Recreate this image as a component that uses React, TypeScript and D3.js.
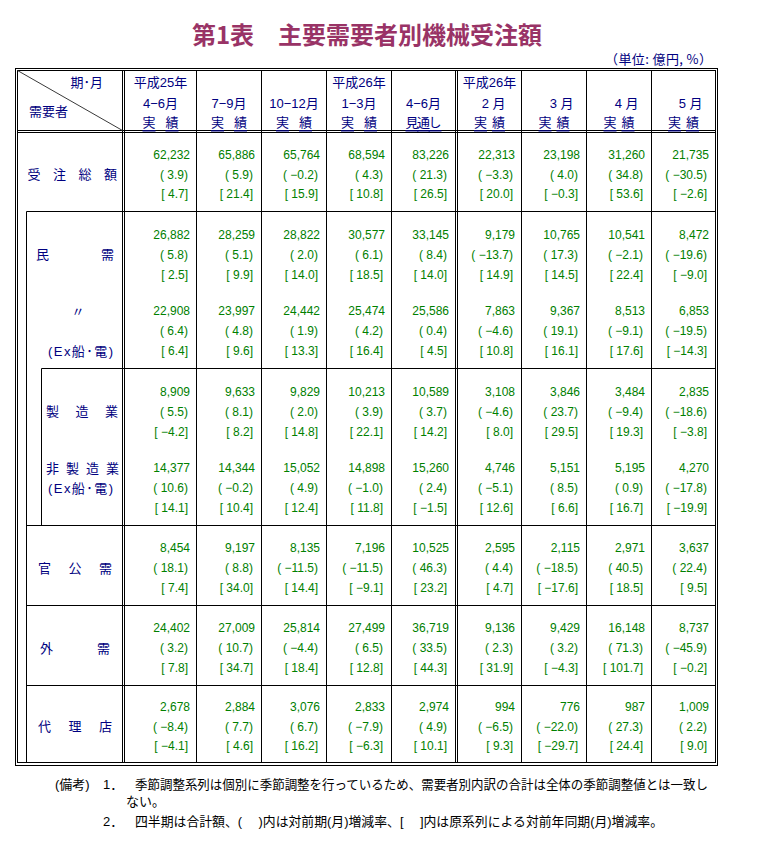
import React from "react";
import * as d3 from "d3";

// ---------- data ----------
const headerTop = ["平成25年", "", "", "平成26年", "", "平成26年", "", "", ""];
const headerMid = ["4−6月", "7−9月", "10−12月", "1−3月", "4−6月", "2 月", "3 月", "4 月", "5 月"];
const headerBottom = ["実 績", "実 績", "実 績", "実 績", "見通し", "実 績", "実 績", "実 績", "実 績"];

const rowLabels = [
  ["受注総額"],
  ["民需"],
  ["〃", "(Ex船･電)"],
  ["製造業"],
  ["非製造業", "(Ex船･電)"],
  ["官公需"],
  ["外需"],
  ["代理店"],
];

const orderValues = [
  [62232, 65886, 65764, 68594, 83226, 22313, 23198, 31260, 21735],
  [26882, 28259, 28822, 30577, 33145, 9179, 10765, 10541, 8472],
  [22908, 23997, 24442, 25474, 25586, 7863, 9367, 8513, 6853],
  [8909, 9633, 9829, 10213, 10589, 3108, 3846, 3484, 2835],
  [14377, 14344, 15052, 14898, 15260, 4746, 5151, 5195, 4270],
  [8454, 9197, 8135, 7196, 10525, 2595, 2115, 2971, 3637],
  [24402, 27009, 25814, 27499, 36719, 9136, 9429, 16148, 8737],
  [2678, 2884, 3076, 2833, 2974, 994, 776, 987, 1009],
];

const momRates = [
  [3.9, 5.9, -0.2, 4.3, 21.3, -3.3, 4.0, 34.8, -30.5],
  [5.8, 5.1, 2.0, 6.1, 8.4, -13.7, 17.3, -2.1, -19.6],
  [6.4, 4.8, 1.9, 4.2, 0.4, -4.6, 19.1, -9.1, -19.5],
  [5.5, 8.1, 2.0, 3.9, 3.7, -4.6, 23.7, -9.4, -18.6],
  [10.6, -0.2, 4.9, -1.0, 2.4, -5.1, 8.5, 0.9, -17.8],
  [18.1, 8.8, -11.5, -11.5, 46.3, 4.4, -18.5, 40.5, 22.4],
  [3.2, 10.7, -4.4, 6.5, 33.5, 2.3, 3.2, 71.3, -45.9],
  [-8.4, 7.7, 6.7, -7.9, 4.9, -6.5, -22.0, 27.3, 2.2],
];

const yoyRates = [
  [4.7, 21.4, 15.9, 10.8, 26.5, 20.0, -0.3, 53.6, -2.6],
  [2.5, 9.9, 14.0, 18.5, 14.0, 14.9, 14.5, 22.4, -9.0],
  [6.4, 9.6, 13.3, 16.4, 4.5, 10.8, 16.1, 17.6, -14.3],
  [-4.2, 8.2, 14.8, 22.1, 14.2, 8.0, 29.5, 19.3, -3.8],
  [14.1, 10.4, 12.4, 11.8, -1.5, 12.6, 6.6, 16.7, -19.9],
  [7.4, 34.0, 14.4, -9.1, 23.2, 4.7, -17.6, 18.5, 9.5],
  [7.8, 34.7, 18.4, 12.8, 44.3, 31.9, -4.3, 101.7, -0.2],
  [-4.1, 4.6, 16.2, -6.3, 10.1, 9.3, -29.7, 24.4, 9.0],
];

const titleText = "第1表　主要需要者別機械受注額";
const unitText = "（単位: 億円, %）";
const noteHead = "(備考)";
const noteNums = ["1．", "2．"];
const noteLines = [
  "季節調整系列は個別に季節調整を行っているため、需要者別内訳の合計は全体の季節調整値とは一致し",
  "四半期は合計額、(　 )内は対前期(月)増減率、[　 ]内は原系列による対前年同期(月)増減率。",
];
const noteCont = "ない。";

// ---------- layout ----------
const W = 758;
const H = 851;
const NAVY = "#000080";
const GREEN = "#008000";
const JP = "'Liberation Sans', 'Noto Sans CJK JP', sans-serif";

const colWidths = [72, 65, 65, 65, 64, 64, 65, 65, 64];
const colStart = 124.5;
const colLefts: number[] = [];
const colRights: number[] = [];
{
  let x = colStart;
  colWidths.forEach((w, i) => {
    colLefts.push(x);
    x += w;
    colRights.push(x);
    if (i === 4) x += 2;
  });
}
const colIdx = d3.range(colWidths.length);
const xRight = d3.scaleOrdinal<number, number>().domain(colIdx).range(colRights);
const xLeft = d3.scaleOrdinal<number, number>().domain(colIdx).range(colLefts);

const T_OUT = 68.5, T_IN = 70.5, HB1 = 130.5, HB2 = 132.5, B_IN = 762.5, B_OUT = 765.5;
const L_OUT = 15.5, L_IN = 17.5, R_IN = 715.5, R_OUT = 717.5;
const LC1 = 122.5;
const X_GROUP = 26.5, X_SUB = 41.5;

const groups = [
  { top: HB2, bottom: 211.5, rows: [0] },
  { top: 211.5, bottom: 368.5, rows: [1, 2] },
  { top: 368.5, bottom: 525.5, rows: [3, 4] },
  { top: 525.5, bottom: 605.5, rows: [5] },
  { top: 605.5, bottom: 685.5, rows: [6] },
  { top: 685.5, bottom: B_IN, rows: [7] },
];
const rowMid: number[] = [];
groups.forEach((g) => {
  const m = (g.top + g.bottom) / 2;
  if (g.rows.length === 1) rowMid[g.rows[0]] = m + 2.5;
  else {
    rowMid[g.rows[0]] = m + 3 - 38.2;
    rowMid[g.rows[1]] = m + 3 + 38.2;
  }
});
const PITCH = 19.8;

// label spans: [lineOffset, x0, x1] per label line
const labelSpans: Array<Array<[number, number, number]>> = [
  [[0, 27.5, 117]],
  [[0, 36, 114]],
  [[-1, 78, 78], [1, 48, 113]],
  [[0, 46, 118]],
  [[-1, 46, 119], [0, 48, 113]],
  [[0, 38, 112]],
  [[0, 40, 110]],
  [[0, 38, 112]],
];

const fmtVal = d3.format(",");
const fmtRate = (v: number) => (v < 0 ? "−" : "") + Math.abs(v).toFixed(1);

function SpreadText({ text, x0, x1, y, size }: { text: string; x0: number; x1: number; y: number; size: number }) {
  const chars = Array.from(text);
  const isPlain = /^[^\(\)A-Za-z]+$/.test(text);
  if (chars.length === 1) {
    return (
      <text x={x0} y={y} textAnchor="middle" dominantBaseline="central" fontSize={size} fill={NAVY} fontFamily={JP}>
        {text}
      </text>
    );
  }
  if (!isPlain) {
    return (
      <text x={x0} y={y} dominantBaseline="central" fontSize={size} fill={NAVY} fontFamily={JP}
        textLength={x1 - x0} lengthAdjust="spacing">
        {text}
      </text>
    );
  }
  const step = (x1 - x0 - size) / (chars.length - 1);
  return (
    <g>
      {chars.map((c, i) => (
        <text key={i} x={x0 + i * step} y={y} dominantBaseline="central" fontSize={size} fill={NAVY} fontFamily={JP}>
          {c}
        </text>
      ))}
    </g>
  );
}

export default function App() {
  const line = (x1: number, y1: number, x2: number, y2: number, key: string, stroke = "#000") => (
    <line key={key} x1={x1} y1={y1} x2={x2} y2={y2} stroke={stroke} strokeWidth={1} />
  );

  const frame: React.ReactNode[] = [];
  frame.push(<rect key="o1" x={L_OUT} y={T_OUT} width={R_OUT - L_OUT} height={B_OUT - T_OUT} fill="none" stroke="#000" />);
  frame.push(<rect key="o2" x={L_IN} y={T_IN} width={R_IN - L_IN} height={B_IN - T_IN} fill="none" stroke="#000" />);
  frame.push(line(L_IN, HB1, R_IN, HB1, "hb1"));
  frame.push(line(L_IN, HB2, R_IN, HB2, "hb2"));
  frame.push(line(LC1, T_IN, LC1, B_IN, "lc1"));
  frame.push(line(colStart, T_IN, colStart, B_IN, "lc2"));
  colIdx.forEach((i) => {
    if (i === colIdx.length - 1) return;
    frame.push(line(xRight(i), T_IN, xRight(i), B_IN, "c" + i));
    if (i === 4) frame.push(line(xLeft(5), T_IN, xLeft(5), B_IN, "c4b"));
  });
  frame.push(line(X_GROUP, groups[1].top, X_GROUP, B_IN, "vg"));
  frame.push(line(X_SUB, groups[2].top, X_SUB, groups[2].bottom, "vs"));
  groups.slice(1).forEach((g, i) => {
    const x0 = i === 1 ? X_SUB : X_GROUP;
    frame.push(line(x0, g.top, R_IN, g.top, "gh" + i));
  });
  frame.push(line(X_SUB, groups[2].bottom, R_IN, groups[2].bottom, "gh-end"));
  frame.push(line(L_IN, T_IN, LC1, HB1, "diag", "#3a3a3a"));

  const headerY = [82.7, 103.3, 122.7];

  return (
    <svg width={W} height={H} viewBox={`0 0 ${W} ${H}`}
      style={{ position: "absolute", left: 0, top: 0, background: "#fff" }}>
      <rect x={0} y={0} width={W} height={H} fill="#fff" />
      <text x={367} y={33} textAnchor="middle" dominantBaseline="central" fontSize={24} fontWeight="bold"
        fill="#993366" fontFamily="'Noto Sans CJK JP', sans-serif">
        {titleText}
      </text>
      <text x={605} y={58.5} dominantBaseline="central" fontSize={13} fill={NAVY}
        fontFamily="'Noto Sans CJK JP', sans-serif" textLength={107} lengthAdjust="spacing">
        {unitText}
      </text>

      {frame}

      <text x={70.5} y={headerY[0]} dominantBaseline="central" fontSize={13} fill={NAVY} fontFamily={JP}>期･月</text>
      <text x={29} y={111.7} dominantBaseline="central" fontSize={13} fill={NAVY} fontFamily={JP}>需要者</text>

      {colIdx.map((i) => {
        const cx = (xLeft(i) + xRight(i)) / 2;
        const isMonth = i >= 5;
        return (
          <g key={"h" + i} fill={NAVY} fontFamily={JP} fontSize={13}>
            {headerTop[i] && (
              <text x={cx} y={headerY[0]} textAnchor="middle" dominantBaseline="central">{headerTop[i]}</text>
            )}
            <text x={isMonth ? xRight(i) - (i === 5 ? 16 : 13) : cx} y={headerY[1]}
              textAnchor={isMonth ? "end" : "middle"} dominantBaseline="central">
              {headerMid[i]}
            </text>
            <text x={cx} y={headerY[2]} textAnchor="middle" dominantBaseline="central"
              textLength={isMonth ? 31 : 36} lengthAdjust="spacing"
              style={{ textDecoration: "underline" }}>
              {headerBottom[i].replace(" ", "")}
            </text>
          </g>
        );
      })}

      {rowLabels.map((labels, r) =>
        labels.map((lab, k) => {
          const [off, x0, x1] = labelSpans[r][k];
          return <SpreadText key={`l${r}-${k}`} text={lab} x0={x0} x1={x1} y={rowMid[r] + off * PITCH} size={13} />;
        })
      )}

      <g fill={GREEN} fontFamily="'Liberation Sans', sans-serif" fontSize={12}>
        {orderValues.map((vals, r) =>
          vals.map((v, c) => (
            <g key={`d${r}-${c}`}>
              <text x={xRight(c) - 6.5} y={rowMid[r] - PITCH} textAnchor="end" dominantBaseline="central">
                {fmtVal(v)}
              </text>
              <text x={xRight(c) - 8.5} y={rowMid[r]} textAnchor="end" dominantBaseline="central">
                {`( ${fmtRate(momRates[r][c])})`}
              </text>
              <text x={xRight(c) - 8.5} y={rowMid[r] + PITCH} textAnchor="end" dominantBaseline="central">
                {`[ ${fmtRate(yoyRates[r][c])}]`}
              </text>
            </g>
          ))
        )}
      </g>

      <g fill="#000" fontFamily={JP} fontSize={13}>
        <text x={55} y={784.3} dominantBaseline="central">{noteHead}</text>
        <text x={103} y={784.3} dominantBaseline="central">{noteNums[0]}</text>
        <text x={135} y={784.3} dominantBaseline="central" textLength={573} lengthAdjust="spacingAndGlyphs">{noteLines[0]}</text>
        <text x={126} y={801} dominantBaseline="central">{noteCont}</text>
        <text x={103} y={821} dominantBaseline="central">{noteNums[1]}</text>
        <text x={135} y={821} dominantBaseline="central" textLength={528} lengthAdjust="spacingAndGlyphs">{noteLines[1]}</text>
      </g>
    </svg>
  );
}
